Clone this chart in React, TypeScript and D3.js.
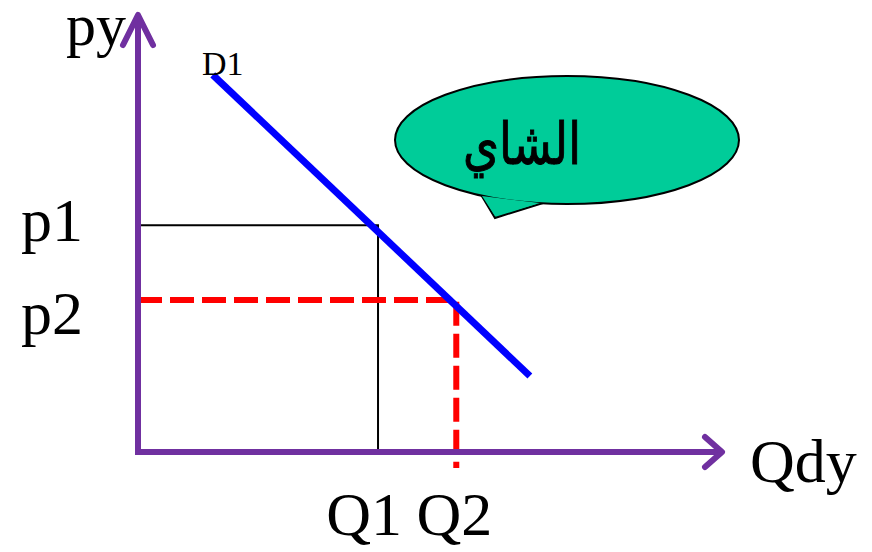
import React from "react";
import * as d3 from "d3";

const W = 872;
const H = 552;

// data in abstract units (0..100 on both axes)
const demandLine: [number, number][] = [
  [12.8, 86.3],
  [67.1, 17.4],
];
const quantities = [41.1, 54.5]; // Q1, Q2
const prices = [51.9, 34.8]; // p1, p2
const priceLabels = ["p1", "p2"];
const quantityLabels = ["Q1", "Q2"];
const axisLabels = { y: "py", x: "Qdy" };
const curveLabel = "D1";
const calloutText = "الشاي";

export default function App() {
  const x = d3.scaleLinear().domain([0, 100]).range([138, 722]);
  const y = d3.scaleLinear().domain([0, 100]).range([452, 15]);
  const line = d3
    .line<[number, number]>()
    .x((d) => x(d[0]))
    .y((d) => y(d[1]));

  const purple = "#7030A0";
  const serif = "'Liberation Serif', 'Times New Roman', serif";
  const fs = 62;

  const x0 = x(0);
  const y0 = y(0);
  const xEnd = x(100);
  const yEnd = y(100);

  return (
    <svg
      width={W}
      height={H}
      style={{ position: "absolute", left: 0, top: 0, background: "#fff" }}
    >
      {/* p1 guide lines */}
      <path
        d={`M${x0},${y(prices[0])}H${x(quantities[0])}V${y0}`}
        fill="none"
        stroke="#000"
        strokeWidth={2}
      />
      {/* p2 guide lines */}
      <path
        d={`M${x0},${y(prices[1])}H${x(quantities[1])}V${y0 + 16}`}
        fill="none"
        stroke="#FF0000"
        strokeWidth={6}
        strokeDasharray="24 8"
      />
      {/* demand */}
      <path d={line(demandLine) || ""} stroke="#0000FF" strokeWidth={7} fill="none" />

      {/* axes */}
      <path
        d={`M${x0},${y0 + 3}V${yEnd}`}
        stroke={purple}
        strokeWidth={6}
        fill="none"
      />
      <path
        d={`M${x0 - 15},${yEnd + 30}L${x0},${yEnd}L${x0 + 15},${yEnd + 30}`}
        stroke={purple}
        strokeWidth={6}
        strokeLinecap="round"
        strokeLinejoin="round"
        fill="none"
      />
      <path
        d={`M${x0 - 3},${y0}H${xEnd}`}
        stroke={purple}
        strokeWidth={6}
        fill="none"
      />
      <path
        d={`M${xEnd - 17},${y0 - 15}L${xEnd},${y0}L${xEnd - 17},${y0 + 15}`}
        stroke={purple}
        strokeWidth={6}
        strokeLinecap="round"
        strokeLinejoin="round"
        fill="none"
      />

      {/* labels */}
      <text x={66} y={45} fontFamily={serif} fontSize={60}>
        {axisLabels.y}
      </text>
      <text x={750} y={482} fontFamily={serif} fontSize={fs}>
        {axisLabels.x}
      </text>
      <text x={202} y={75} fontFamily={serif} fontSize={34}>
        {curveLabel}
      </text>
      {prices.map((p, i) => (
        <text
          key={priceLabels[i]}
          x={21}
          y={y(p) + 16 + i * 18}
          fontFamily={serif}
          fontSize={fs}
        >
          {priceLabels[i]}
        </text>
      ))}
      {quantities.map((q, i) => (
        <text
          key={quantityLabels[i]}
          x={x(q) + (i === 0 ? -14 : -2)}
          y={535}
          fontFamily={serif}
          fontSize={fs}
          textAnchor="middle"
        >
          {quantityLabels[i]}
        </text>
      ))}

      {/* callout */}
      <path
        d={`M480,193 L495,218 L543,203`}
        fill="#00CC99"
        stroke="#000"
        strokeWidth={2}
      />
      <ellipse cx={567} cy={140} rx={172} ry={64} fill="#00CC99" stroke="#000" strokeWidth={2} />
      <path d={`M482,196 L495,216 L540,203 Z`} fill="#00CC99" stroke="none" />
      <g transform="translate(522,164) scale(1,1.25)">
        <text
          x={0}
          y={0}
          fontFamily="'DejaVu Sans', sans-serif"
          fontSize={46}
          stroke="#000"
          strokeWidth={0.8}
          textAnchor="middle"
          direction="rtl"
        >
          {calloutText}
        </text>
      </g>
    </svg>
  );
}
